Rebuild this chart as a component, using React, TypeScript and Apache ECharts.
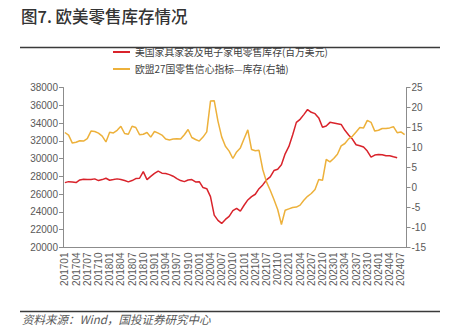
import React, { useEffect, useRef } from "react";
import * as echarts from "echarts";

const months: string[] = [
  "201701","201702","201703","201704","201705","201706","201707","201708","201709","201710","201711","201712",
  "201801","201802","201803","201804","201805","201806","201807","201808","201809","201810","201811","201812",
  "201901","201902","201903","201904","201905","201906","201907","201908","201909","201910","201911","201912",
  "202001","202002","202003","202004","202005","202006","202007","202008","202009","202010","202011","202012",
  "202101","202102","202103","202104","202105","202106","202107","202108","202109","202110","202111","202112",
  "202201","202202","202203","202204","202205","202206","202207","202208","202209","202210","202211","202212",
  "202301","202302","202303","202304","202305","202306","202307","202308","202309","202310","202311","202312",
  "202401","202402","202403","202404","202405","202406","202407","202408",
];

// 美国家具家装及电子家电零售库存(百万美元)
const usInventory: (number | null)[] = [
  27300, 27410, 27380, 27300, 27600, 27680, 27640, 27640, 27720, 27530, 27640, 27790,
  27570, 27640, 27720, 27640, 27530, 27380, 27530, 27750, 27790, 28540, 27640, 28000,
  28330, 28590, 28360, 28320, 28200, 28020, 27750, 27530, 27410, 27600, 27640, 27380,
  27410, 26740, 26620, 25720, 23650, 23050, 22710, 23160, 23500, 24140, 24410, 24100,
  24750, 25350, 25720, 25990, 26620, 27040, 27600, 27940, 28660, 28810, 29300, 30540,
  31370, 32660, 34080, 34420, 34950, 35520, 35210, 35060, 34580, 33520, 33670, 34080,
  34010, 33930, 33850, 33180, 32660, 32200, 31560, 31450, 31300, 30850, 30170, 30400,
  30470, 30430, 30320, 30320, 30200, 30090, null, null,
];

// 欧盟27国零售信心指标—库存(右轴)
const euStocks: number[] = [
  13.75, 13.1, 11.1, 11.3, 11.7, 11.6, 12.2, 14.1, 14.0, 13.6, 12.85, 11.4,
  13.8, 13.65, 14.3, 15.3, 13.5, 13.3, 15.3, 15.0, 13.2, 13.3, 13.75, 12.6,
  14.0, 13.6, 13.1, 12.1, 11.9, 12.1, 12.2, 12.1, 13.2, 14.5, 12.5, 12.0,
  11.6, 12.6, 13.9, 21.6, 21.7, 16.6, 12.65, 10.3, 9.1, 7.25, 8.9, 9.9,
  12.2, 14.4, 9.5, 9.2, 9.3, 4.5, 1.4, -0.7, -3.0, -5.5, -9.25, -5.7,
  -5.35, -5.0, -4.9, -4.4, -3.2, -2.2, -1.5, -0.5, 2.0, 1.8, 7.0, 6.4,
  7.25, 8.3, 10.4, 11.0, 12.15, 12.8, 13.9, 15.0, 14.9, 16.8, 16.3, 14.1,
  14.3, 14.75, 14.75, 14.9, 15.2, 13.7, 13.9, 13.2,
];

const seriesNames = ["美国家具家装及电子家电零售库存(百万美元)", "欧盟27国零售信心指标—库存(右轴)"];
const titleText = "图7. 欧美零售库存情况";
const sourceText = "资料来源：Wind，国投证券研究中心";

const RED = "#D9232B";
const YELLOW = "#EDB13B";
const AXIS = "#8C8C8C";
const LABEL = "#595959";
const CJK = '"Noto Sans CJK SC", sans-serif';
const NUM = '"Liberation Sans", Arial, sans-serif';

export default function App() {
  const ref = useRef<HTMLDivElement>(null);
  useEffect(() => {
    const chart = echarts.init(ref.current!, null, { renderer: "svg" });
    chart.setOption({
      animation: false,
      backgroundColor: "#fff",
      title: {
        text: titleText,
        left: 21,
        top: 8,
        padding: 0,
        textStyle: { fontFamily: CJK, fontSize: 16.5, fontWeight: 500, color: "#333" },
      },
      legend: {
        orient: "vertical",
        left: 113,
        top: 46,
        padding: 0,
        icon: "rect",
        itemWidth: 17,
        itemHeight: 2,
        itemGap: 5,
        data: seriesNames,
        textStyle: { fontFamily: CJK, fontSize: 9.8, lineHeight: 12, color: "#404040" },
      },
      grid: { left: 63, right: 46.5, top: 87.5, bottom: 79.5, containLabel: false },
      xAxis: {
        type: "category",
        data: months,
        boundaryGap: true,
        axisLine: { onZero: false, lineStyle: { color: AXIS, width: 1 } },
        axisTick: { interval: 2, length: 4, lineStyle: { color: AXIS } },
        axisLabel: { interval: 2, rotate: 90, fontSize: 10, color: LABEL, margin: 5, fontFamily: NUM },
      },
      yAxis: [
        {
          type: "value",
          min: 20000,
          max: 38000,
          interval: 2000,
          axisLine: { show: true, lineStyle: { color: AXIS } },
          axisTick: { show: true, length: 4, lineStyle: { color: AXIS } },
          splitLine: { show: false },
          axisLabel: {
            fontSize: 10,
            color: LABEL,
            margin: 5,
            fontFamily: NUM,
            formatter: (v: number) => String(v),
          },
        },
        {
          type: "value",
          position: "right",
          min: -15,
          max: 25,
          interval: 5,
          axisLine: { show: true, onZero: false, lineStyle: { color: AXIS } },
          axisTick: { show: true, length: 4, lineStyle: { color: AXIS } },
          splitLine: { show: false },
          axisLabel: {
            fontSize: 10,
            color: LABEL,
            margin: 5,
            fontFamily: NUM,
            formatter: (v: number) => String(v),
          },
        },
      ],
      series: [
        {
          name: seriesNames[0],
          type: "line",
          yAxisIndex: 0,
          data: usInventory,
          symbol: "none",
          lineStyle: { color: RED, width: 1.5 },
          itemStyle: { color: RED },
        },
        {
          name: seriesNames[1],
          type: "line",
          yAxisIndex: 1,
          data: euStocks,
          symbol: "none",
          lineStyle: { color: YELLOW, width: 1.5 },
          itemStyle: { color: YELLOW },
        },
      ],
      graphic: [
        { type: "line", shape: { x1: 20, y1: 47.5, x2: 440, y2: 47.5 }, style: { stroke: "#3A3A3A", lineWidth: 1.5 } },
        { type: "line", shape: { x1: 20, y1: 311.5, x2: 440, y2: 311.5 }, style: { stroke: "#3A3A3A", lineWidth: 1.5 } },
        {
          type: "text",
          x: 22,
          y: 319,
          style: {
            text: sourceText,
            font: `italic 11.5px ${CJK}`,
            lineHeight: 13,
            fill: LABEL,
            verticalAlign: "middle",
            align: "left",
          },
        },
      ],
    });
    return () => chart.dispose();
  }, []);
  return (
    <div
      ref={ref}
      style={{ position: "absolute", left: 0, top: 0, width: 453, height: 327, background: "#fff" }}
    />
  );
}
